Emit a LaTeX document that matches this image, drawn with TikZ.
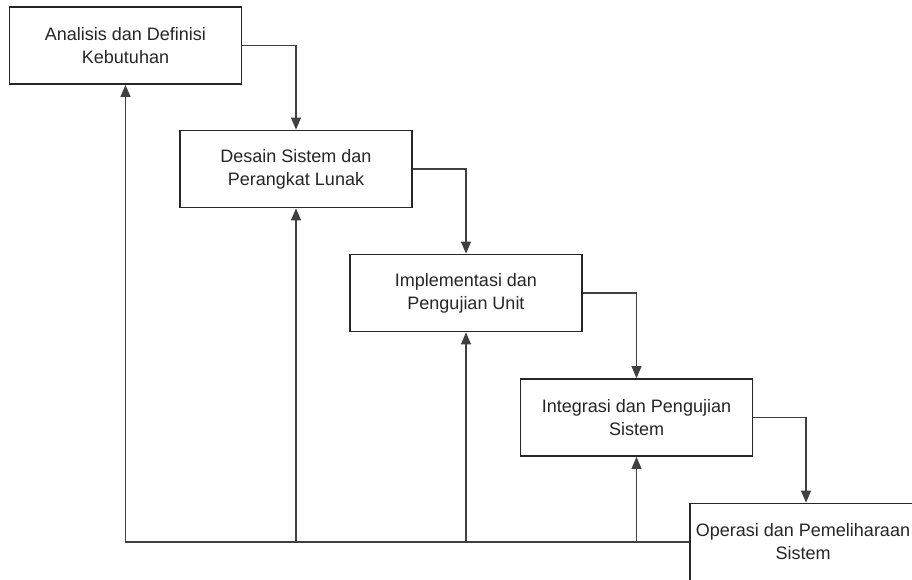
\documentclass[tikz,border=0pt]{standalone}
\usepackage{fontspec}
\setmainfont{Liberation Sans}
\usetikzlibrary{arrows.meta}
\begin{document}
\begin{tikzpicture}[x=1pt,y=-1pt,
  stagebox/.style={draw=black!85,line width=1.8pt,fill=white,minimum width=232pt,minimum height=77pt,
    align=center,font=\fontsize{18}{23}\selectfont,text=black!85,inner sep=0pt},
  flow/.style={draw=black!75,line width=1.1pt,-{Triangle[length=12pt,width=10pt]}},
  plain/.style={draw=black!75,line width=1.1pt}]
\clip (0,0) rectangle (912,580);
\useasboundingbox (0,0) rectangle (912,580);
\fill[white] (0,0) rectangle (912,580);
\node[stagebox] (b1) at (125.5,45.5) {Analisis dan Definisi\\Kebutuhan};
\node[stagebox] (b2) at (296,169) {Desain Sistem dan\\Perangkat Lunak};
\node[stagebox] (b3) at (466,293) {Implementasi dan\\Pengujian Unit};
\node[stagebox] (b4) at (636.5,417.5) {Integrasi dan Pengujian\\Sistem};
\node[stagebox,minimum width=226pt] (b5) at (803,542) {Operasi dan Pemeliharaan\\Sistem};
\draw[flow] (b1.east) -| (b2.north);
\draw[flow] (b2.east) -| (b3.north);
\draw[flow] (b3.east) -| (b4.north);
\draw[flow] (b4.east) -| ([xshift=3pt]b5.north);
\draw[flow] (b5.west) -| (b1.south);
\draw[flow] (b2.south |- b5.west) -- (b2.south);
\draw[flow] (b3.south |- b5.west) -- (b3.south);
\draw[flow] (b4.south |- b5.west) -- (b4.south);
\end{tikzpicture}
\end{document}
